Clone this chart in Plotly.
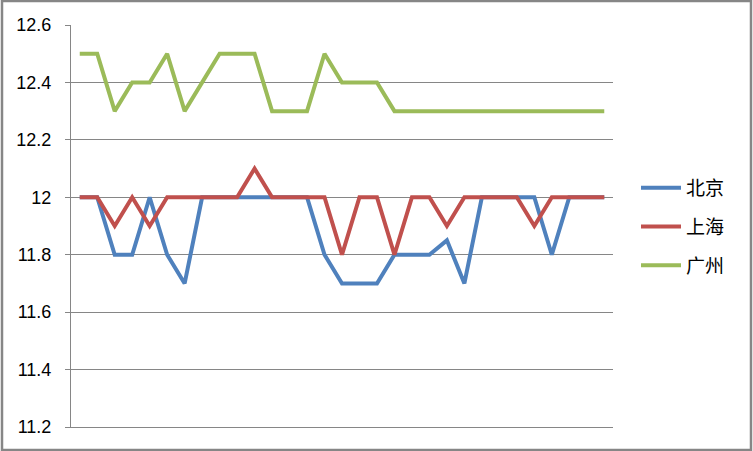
import plotly.graph_objects as go

days = ["1", "2", "3", "4", "5", "6", "7", "8", "9", "10", "11", "12", "13", "14", "15", "16",
        "17", "18", "19", "20", "21", "22", "23", "24", "25", "26", "27", "28", "29", "30", "31"]

beijing = [12.0, 12.0, 11.8, 11.8, 12.0, 11.8, 11.7, 12.0, 12.0, 12.0, 12.0, 12.0, 12.0, 12.0, 11.8, 11.7,
           11.7, 11.7, 11.8, 11.8, 11.8, 11.85, 11.7, 12.0, 12.0, 12.0, 12.0, 11.8, 12.0, 12.0, 12.0]
shanghai = [12.0, 12.0, 11.9, 12.0, 11.9, 12.0, 12.0, 12.0, 12.0, 12.0, 12.1, 12.0, 12.0, 12.0, 12.0, 11.8,
            12.0, 12.0, 11.8, 12.0, 12.0, 11.9, 12.0, 12.0, 12.0, 12.0, 11.9, 12.0, 12.0, 12.0, 12.0]
guangzhou = [12.5, 12.5, 12.3, 12.4, 12.4, 12.5, 12.3, 12.4, 12.5, 12.5, 12.5, 12.3, 12.3, 12.3, 12.5, 12.4,
             12.4, 12.4, 12.3, 12.3, 12.3, 12.3, 12.3, 12.3, 12.3, 12.3, 12.3, 12.3, 12.3, 12.3, 12.3]

series = [("北京", beijing, "#4F81BD"), ("上海", shanghai, "#C0504D"), ("广州", guangzhou, "#9BBB59")]

y_ticks = [11.2, 11.4, 11.6, 11.8, 12.0, 12.2, 12.4, 12.6]
y_labels = ["11.2", "11.4", "11.6", "11.8", "12", "12.2", "12.4", "12.6"]

fig = go.Figure()
for name, vals, color in series:
    fig.add_trace(go.Scatter(x=days, y=vals, mode="lines", name=name, legendgroup=name,
                             line=dict(color=color, width=4)))

W, H = 753, 451
ml, mr, mt, mb = 71, 140, 25, 24
pw, ph = W - ml - mr, H - mt - mb

def px_x(p):
    return (p - ml) / pw

def px_y(p):
    return (H - mb - p) / ph

fig.update_layout(
    width=W, height=H,
    margin=dict(l=ml, r=mr, t=mt, b=mb, pad=0),
    paper_bgcolor="white", plot_bgcolor="white",
    font=dict(family="Liberation Sans, Arial, sans-serif", size=18, color="black"),
    showlegend=True,
    legend=dict(x=px_x(636), xanchor="left", y=px_y(227), yanchor="middle",
                font=dict(family="Noto Sans CJK SC", size=19, color="black"),
                tracegroupgap=11, itemwidth=40, bgcolor="rgba(0,0,0,0)"),
    xaxis=dict(type="category", range=[-0.5, 30.5], showticklabels=False, ticks="",
               showgrid=False, zeroline=False, showline=True, linecolor="#868686", linewidth=1),
    yaxis=dict(range=[11.2, 12.6], tickvals=y_ticks, ticktext=y_labels, showgrid=True,
               gridcolor="#868686", gridwidth=1, zeroline=False, showline=True,
               linecolor="#868686", linewidth=1, ticks="outside", ticklen=5, tickcolor="#868686",
               ticklabelstandoff=10),
    shapes=[dict(type="rect", xref="paper", yref="paper",
                 x0=px_x(2), x1=px_x(751), y0=px_y(450), y1=px_y(1),
                 line=dict(color="#868686", width=2.5), fillcolor="rgba(0,0,0,0)", layer="above")],
)

fig.write_html("out.html", config={"displayModeBar": False},
               post_script="document.body.style.margin='0';document.body.style.overflow='hidden';")
